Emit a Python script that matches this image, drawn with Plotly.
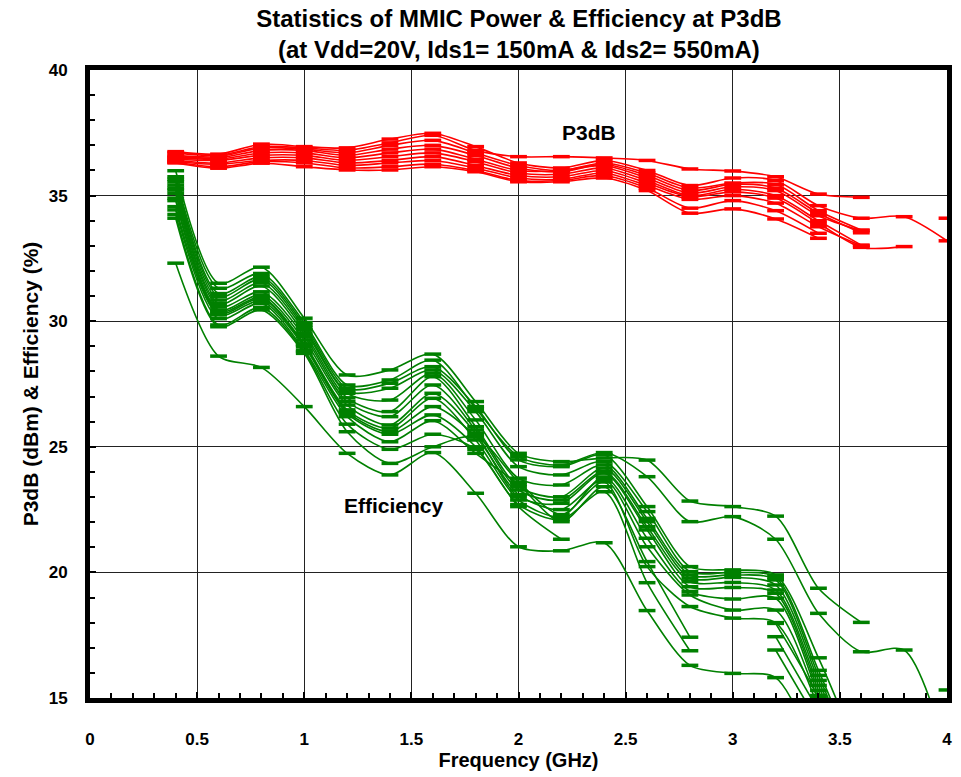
import plotly.graph_objects as go

freq = [0.4, 0.6, 0.8, 1.0, 1.2, 1.4, 1.6, 1.8, 2.0, 2.2, 2.4, 2.6, 2.8, 3.0, 3.2, 3.4, 3.6, 3.8, 4.0]
N = None

p3db_series = [
    [36.70, 36.60, 36.95, 36.90, 36.80, 37.10, 37.40, 36.80, 36.55, 36.55, 36.50, 36.40, 36.06, 35.98, 35.75, 35.06, 34.93, N, 34.10],
    [36.75, 36.65, 37.05, 36.95, 36.90, 37.25, 37.48, 36.95, 36.30, 36.10, 36.40, 36.00, 35.40, 35.70, 35.60, 34.60, 34.10, 34.16, 33.20],
    [36.60, 36.55, 36.90, 36.85, 36.70, 37.00, 37.20, 36.70, 36.20, 36.00, 36.30, 35.90, 35.30, 35.50, 35.45, 34.40, 33.63, N, N],
    [36.55, 36.50, 36.80, 36.80, 36.60, 36.85, 37.00, 36.60, 36.10, 35.95, 36.25, 35.80, 35.20, 35.45, 35.30, 34.30, 33.52, N, N],
    [36.50, 36.45, 36.70, 36.70, 36.50, 36.70, 36.85, 36.45, 36.00, 36.00, 36.20, 35.70, 35.10, 35.35, 35.20, 34.20, 33.60, N, N],
    [36.45, 36.40, 36.60, 36.60, 36.40, 36.55, 36.70, 36.35, 35.90, 35.85, 36.10, 35.60, 35.00, 35.25, 35.00, 34.00, 33.03, N, N],
    [36.40, 36.30, 36.50, 36.50, 36.30, 36.40, 36.55, 36.20, 35.80, 35.75, 36.00, 35.50, 34.95, 35.15, 34.90, 33.90, 32.94, 32.97, N],
    [36.35, 36.25, 36.40, 36.40, 36.20, 36.30, 36.40, 36.10, 35.70, 35.65, 35.90, 35.40, 34.85, 35.00, 34.70, 33.76, 33.00, N, N],
    [36.33, 36.15, 36.35, 36.30, 36.10, 36.15, 36.25, 36.00, 35.60, 35.60, 35.80, 35.30, 34.50, 34.80, 34.40, 33.50, N, N, N],
    [36.30, 36.09, 36.29, 36.15, 36.02, 36.02, 36.15, 35.95, 35.55, 35.55, 35.70, 35.20, 34.30, 34.47, 34.07, 33.30, N, N, N],
]

eff_series = [
    [35.99, 31.51, 32.15, 30.12, 27.86, 28.06, 28.69, 26.80, 24.74, 24.41, 24.55, 24.47, 22.84, 22.62, 22.24, 19.37, 18.01, N, 15.32],
    [35.75, 31.31, 31.90, 29.95, 27.46, 27.66, 28.45, 26.53, 24.61, 24.27, 24.77, 23.81, 22.02, 22.22, 21.32, 18.37, 16.84, 16.91, 12.80],
    [35.65, 31.10, 31.77, 29.85, 27.33, 27.53, 28.19, 26.60, 24.48, 24.21, 24.68, 22.62, 20.23, 20.10, 19.90, 16.60, 12.50, N, N],
    [35.55, 30.98, 31.67, 29.75, 27.20, 27.33, 28.06, 26.40, 24.21, 23.88, 24.41, 22.42, 20.03, 20.00, 19.80, 16.10, 12.00, N, N],
    [35.42, 30.84, 31.53, 29.65, 27.13, 26.86, 27.93, 26.07, 23.75, 23.48, 24.28, 22.15, 19.90, 19.90, 19.70, 15.90, 11.80, N, N],
    [35.30, 30.70, 31.40, 29.52, 26.95, 26.40, 27.79, 25.80, 23.41, 23.01, 24.15, 22.02, 19.77, 19.80, 19.50, 15.70, 11.50, N, N],
    [35.22, 30.58, 31.17, 29.40, 26.80, 26.20, 27.46, 25.67, 23.28, 22.88, 24.01, 21.82, 19.63, 19.60, 19.30, 15.50, 11.30, N, N],
    [35.09, 30.45, 31.04, 29.25, 26.66, 25.87, 27.13, 25.54, 23.01, 22.75, 23.95, 21.69, 19.43, 19.40, 19.17, 15.30, 11.00, N, N],
    [34.90, 30.38, 30.95, 29.10, 26.47, 25.74, 26.93, 25.27, 22.88, 22.22, 23.80, 21.36, 19.24, 18.94, 18.97, 15.10, 10.80, N, N],
    [34.80, 30.31, 30.90, 29.05, 26.40, 25.60, 26.60, 25.40, 23.10, 22.50, 23.70, 21.02, 19.10, 18.50, 18.50, 14.90, 10.50, N, N],
    [34.56, 30.25, 30.80, 28.99, 26.33, 25.50, 26.27, 25.00, 22.62, 21.32, N, N, N, N, 17.97, 15.00, 11.00, N, N],
    [34.43, 30.10, 30.71, 28.85, 26.20, 25.20, 26.04, 24.74, 23.50, 22.02, 23.41, 20.43, 17.42, N, 17.44, 14.50, N, N, N],
    [34.25, 29.85, 30.55, 28.79, 25.90, 24.90, 25.50, 24.90, 22.70, 22.10, 23.21, 19.59, 16.88, N, 16.91, 14.00, N, N, N],
    [34.10, 29.78, 30.45, 28.72, 25.60, 24.34, 25.00, 25.40, 23.60, 22.30, 23.60, 20.23, 18.64, 18.18, 18.00, 14.60, N, N, N],
    [32.31, 28.61, 28.16, 26.60, 24.74, 23.88, 24.77, 23.15, 21.02, 20.86, 21.18, 18.48, 16.30, 15.98, 15.81, 12.50, N, N, N],
]

RED = "#FF0000"
GREEN = "#008000"
FONT = "Liberation Sans, Arial, sans-serif"

fig = go.Figure()

def add_series(ys, color):
    fig.add_trace(go.Scatter(
        x=freq, y=ys, mode="lines+markers",
        line=dict(color=color, width=1.6, shape="spline", smoothing=0.8),
        marker=dict(symbol="line-ew", size=12, color=color,
                    line=dict(color=color, width=3.5)),
        connectgaps=False, showlegend=False, hoverinfo="x+y",
    ))

for s in eff_series:
    add_series(s, GREEN)
for s in p3db_series:
    add_series(s, RED)

fig.add_annotation(x=2.33, y=37.5, text="<b>P3dB</b>", showarrow=False,
                   font=dict(family=FONT, size=21, color="black"))
fig.add_annotation(x=1.42, y=22.65, text="<b>Efficiency</b>", showarrow=False,
                   font=dict(family=FONT, size=21, color="black"))

fig.update_layout(
    width=961, height=777,
    margin=dict(l=90, r=9, t=70, b=79),
    paper_bgcolor="white", plot_bgcolor="white",
    font=dict(family=FONT, color="black"),
    title=dict(
        text="<b>Statistics of MMIC Power & Efficiency at P3dB<br>(at Vdd=20V, Ids1= 150mA & Ids2= 550mA)</b>",
        x=0.54, xanchor="center", y=0.965, yanchor="middle",
        font=dict(family=FONT, size=24, color="black"),
    ),
    xaxis=dict(
        range=[0, 4], dtick=0.5, tick0=0,
        showgrid=True, gridcolor="#222222", gridwidth=1,
        showline=True, linecolor="black", linewidth=5, mirror=True,
        ticks="inside", ticklen=6, tickwidth=2, tickcolor="black",
        minor=dict(dtick=0.1, ticks="inside", ticklen=5, tickwidth=2, tickcolor="black", showgrid=False),
        tickfont=dict(family=FONT, size=17, color="black", weight="bold"),
        ticklabelstandoff=22,
        title=dict(text="<b>Frequency (GHz)</b>", font=dict(family=FONT, size=20), standoff=4),
        zeroline=False,
    ),
    yaxis=dict(
        range=[15, 40], dtick=5, tick0=15,
        showgrid=True, gridcolor="#222222", gridwidth=1,
        showline=True, linecolor="black", linewidth=5, mirror=True,
        ticks="inside", ticklen=6, tickwidth=2, tickcolor="black",
        minor=dict(dtick=1, ticks="inside", ticklen=5, tickwidth=2, tickcolor="black", showgrid=False),
        tickfont=dict(family=FONT, size=17, color="black", weight="bold"),
        ticklabelstandoff=14,
        title=dict(text="<b>P3dB (dBm) & Efficiency (%)</b>", font=dict(family=FONT, size=21), standoff=6),
        zeroline=False,
    ),
)

fig.write_html("out.html")
